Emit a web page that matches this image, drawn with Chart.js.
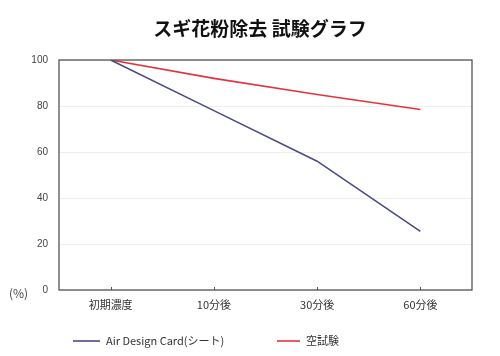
<!DOCTYPE html>
<html>
<head>
<meta charset="utf-8">
<script src="https://cdn.jsdelivr.net/npm/chart.js@4.4.0/dist/chart.umd.min.js"></script>
<style>
html,body{margin:0;padding:0;background:#fff;}
#wrap{width:500px;height:356px;position:relative;}
</style>
</head>
<body>
<div id="wrap"><canvas id="c" width="500" height="356"></canvas></div>
<script>
const categories = ['初期濃度', '10分後', '30分後', '60分後'];
const seriesCard = [100, 78, 56, 25.5];
const seriesBlank = [100, 92, 85, 78.5];
const yTicks = [0, 20, 40, 60, 80, 100];
const titleText = 'スギ花粉除去 試験グラフ';
const unitText = '(%)';

const jp = '"Noto Sans CJK JP", "Noto Sans", sans-serif';

const framePlugin = {
  id: 'frame',
  afterDraw(chart) {
    const {ctx, chartArea: a} = chart;
    ctx.save();
    // title
    ctx.fillStyle = '#111';
    ctx.font = 'bold 19px ' + jp;
    ctx.textAlign = 'center';
    ctx.textBaseline = 'middle';
    ctx.fillText(titleText, 260, 29);
    // frame
    ctx.strokeStyle = '#555';
    ctx.lineWidth = 1.3;
    ctx.strokeRect(a.left, a.top, a.right - a.left, a.bottom - a.top);
    // small category tick marks on bottom border
    const xs = chart.scales.x;
    ctx.lineWidth = 1;
    categories.forEach((c, i) => {
      const px = Math.round(xs.getPixelForValue(i)) + 0.5;
      ctx.beginPath(); ctx.moveTo(px, a.bottom); ctx.lineTo(px, a.bottom - 3); ctx.stroke();
    });
    // unit label
    ctx.fillStyle = '#444';
    ctx.font = '12px ' + jp;
    ctx.textAlign = 'left';
    ctx.fillText(unitText, 9, chart.scales.y.getPixelForValue(0) + 3);
    // legend
    const items = [{x: 73, len: 27}, {x: 277, len: 23}];
    ctx.font = '11px ' + jp;
    chart.data.datasets.forEach((d, i) => {
      const it = items[i];
      const y = 341;
      ctx.strokeStyle = d.borderColor;
      ctx.lineWidth = 1.6;
      ctx.beginPath(); ctx.moveTo(it.x, y); ctx.lineTo(it.x + it.len, y); ctx.stroke();
      ctx.fillStyle = '#333';
      ctx.fillText(d.label, it.x + it.len + 6, y);
    });
    ctx.restore();
  }
};

new Chart(document.getElementById('c'), {
  type: 'line',
  data: {
    labels: categories,
    datasets: [
      {label: 'Air Design Card(シート)', data: seriesCard, borderColor: '#4b4b86', backgroundColor: '#4b4b86', borderWidth: 1.6, pointRadius: 0, tension: 0},
      {label: '空試験', data: seriesBlank, borderColor: '#e4333f', backgroundColor: '#e4333f', borderWidth: 1.6, pointRadius: 0, tension: 0}
    ]
  },
  options: {
    responsive: false,
    animation: false,
    layout: {padding: {left: 0, right: 28, top: 60, bottom: 36}},
    plugins: {
      title: {display: false},
      legend: {display: false},
      tooltip: {enabled: false}
    },
    scales: {
      x: {
        offset: true,
        grid: {display: false, drawTicks: false},
        border: {display: false},
        afterFit(s) { s.height = 30; },
        ticks: {color: '#333', font: {family: jp, size: 11}, padding: 8}
      },
      y: {
        min: 0, max: 100,
        afterBuildTicks(s) { s.ticks = yTicks.map(v => ({value: v})); },
        afterFit(s) { s.width = 59; },
        grid: {color: '#eeeeee', lineWidth: 1, drawTicks: false},
        border: {display: false},
        ticks: {color: '#444', font: {family: 'Liberation Sans, sans-serif', size: 10}, padding: 11}
      }
    }
  },
  plugins: [framePlugin]
});
</script>
</body>
</html>
